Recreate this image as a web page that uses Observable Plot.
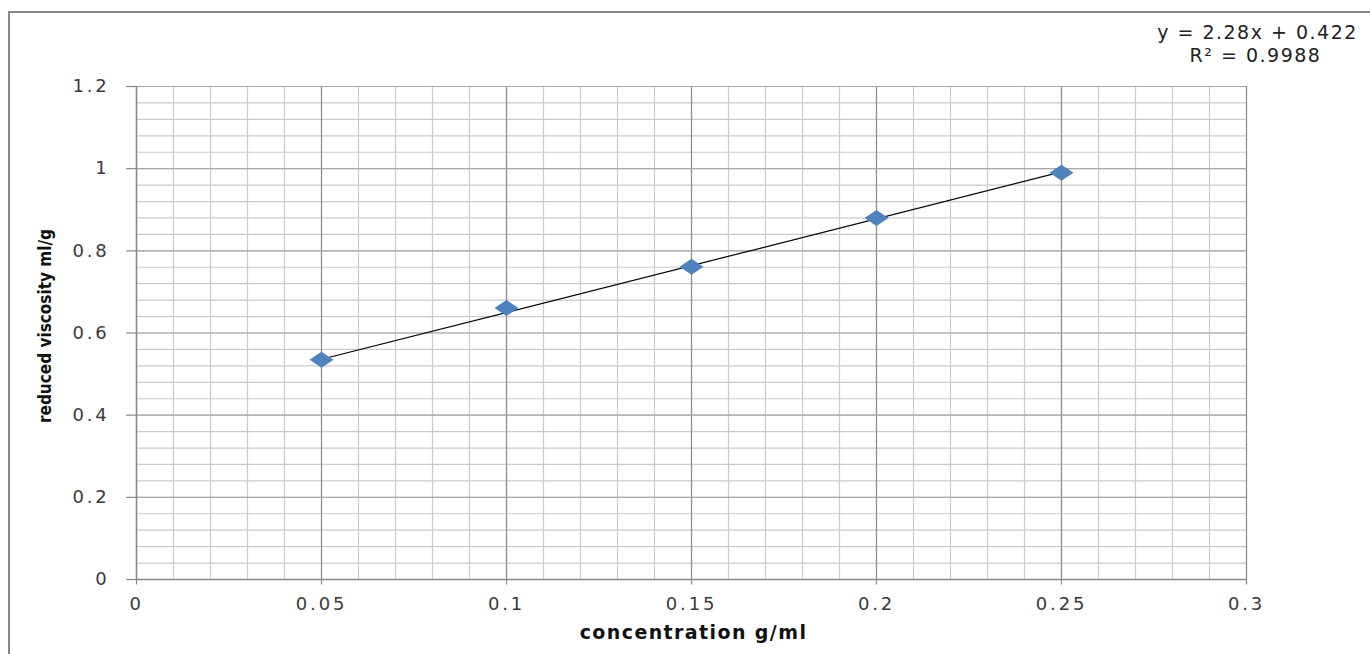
<!DOCTYPE html>
<html>
<head>
<meta charset="utf-8">
<script src="https://cdn.jsdelivr.net/npm/d3@7"></script>
<script src="https://cdn.jsdelivr.net/npm/@observablehq/plot@0.6"></script>
<style>
  html, body { margin: 0; padding: 0; background: #fff; }
  #wrap { position: relative; width: 1370px; height: 654px; overflow: hidden; }
  #frame { position: absolute; left: 8px; top: 11px; width: 1420px; height: 720px;
           border: 2px solid #878787; pointer-events: none; }
  g[aria-label$="tick label"] text { letter-spacing: 2.8px; }
</style>
</head>
<body>
<div id="wrap"><div id="frame"></div></div>
<script>
// Data
const concentration = [0.05, 0.10, 0.15, 0.20, 0.25];
const reducedViscosity = [0.535, 0.661, 0.761, 0.880, 0.990];
const slope = 2.28, intercept = 0.422;
const trendX = [0.05, 0.25];
const xTicks = [0, 0.05, 0.1, 0.15, 0.2, 0.25, 0.3];
const xTickLabels = ["0", "0.05", "0.1", "0.15", "0.2", "0.25", "0.3"];
const yTicks = [0, 0.2, 0.4, 0.6, 0.8, 1.0, 1.2];
const yTickLabels = ["0", "0.2", "0.4", "0.6", "0.8", "1", "1.2"];
const equationLines = ["y = 2.28x + 0.422", "R² = 0.9988"];
const xTitle = "concentration g/ml";
const yTitle = "reduced viscosity ml/g";

const points = concentration.map((c, i) => ({x: c, y: reducedViscosity[i]}));
const trend = trendX.map(x => ({x, y: slope * x + intercept}));
const xMinor = d3.range(0, 31).map(i => i / 100);
const yMinor = d3.range(0, 31).map(i => i * 0.04);

const wideDiamond = {
  draw(ctx, size) {
    const r = Math.sqrt(size / Math.PI);
    ctx.moveTo(0, -r);
    ctx.lineTo(1.5 * r, 0);
    ctx.lineTo(0, r);
    ctx.lineTo(-1.5 * r, 0);
    ctx.closePath();
  }
};

const chart = Plot.plot({
  width: 1370,
  height: 654,
  marginLeft: 136,
  marginRight: 124,
  marginTop: 86,
  marginBottom: 75,
  style: {fontFamily: "DejaVu Sans", fontSize: "18px", color: "#3a3a3a", background: "transparent", overflow: "visible"},
  x: {domain: [0, 0.3], ticks: xTicks, tickFormat: d => xTickLabels[xTicks.indexOf(d)], tickSize: 0, tickPadding: 18, label: null},
  y: {domain: [0, 1.2], ticks: yTicks, tickFormat: d => yTickLabels[yTicks.indexOf(d)], tickSize: 0, tickPadding: 27, label: null},
  marks: [
    Plot.ruleX(xMinor, {stroke: "#cacaca", strokeWidth: 1.2}),
    Plot.ruleY(yMinor, {stroke: "#cacaca", strokeWidth: 1.2}),
    Plot.ruleX(xTicks.slice(1), {stroke: "#8e8e8e", strokeWidth: 1.2}),
    Plot.ruleY(yTicks.slice(1), {stroke: "#a8a8a8", strokeWidth: 1.2}),
    Plot.ruleX([0], {stroke: "#888", strokeWidth: 1.5}),
    Plot.ruleY([0], {stroke: "#888", strokeWidth: 1.5}),
    Plot.ruleX(xTicks, {y1: 0, y2: -0.0135, stroke: "#888", strokeWidth: 1.2}),
    Plot.ruleY(yTicks, {x1: 0, x2: -0.0027, stroke: "#888", strokeWidth: 1.2}),
    Plot.line(trend, {x: "x", y: "y", stroke: "#000", strokeWidth: 1.2}),
    Plot.dot(points, {x: "x", y: "y", symbol: wideDiamond, r: 8, fill: "#4f81bd", stroke: "none"}),
    Plot.text([equationLines[0]], {frameAnchor: "top-right", dx: 11, dy: -54, textAnchor: "middle", lineAnchor: "middle", fill: "#222", fontSize: 19}),
    Plot.text([equationLines[1]], {frameAnchor: "top-right", dx: 9, dy: -31, textAnchor: "middle", lineAnchor: "middle", fill: "#222", fontSize: 19}),
    Plot.text([xTitle], {frameAnchor: "bottom", dx: 2, dy: 53, textAnchor: "middle", lineAnchor: "middle", fontWeight: "bold", fill: "#111", fontSize: 19}),
    Plot.text([yTitle], {frameAnchor: "left", dx: -91, dy: -7, rotate: -90, textAnchor: "middle", lineAnchor: "middle", fontWeight: "bold", fill: "#111", fontSize: 17, fontFamily: "'DejaVu Sans Condensed', 'Liberation Sans', sans-serif"})
  ]
});
document.getElementById("wrap").prepend(chart);
const spacing = new Map([[equationLines[0], "1.5px"], [equationLines[1], "1.5px"], [xTitle, "1.4px"]]);
d3.select(chart).selectAll("text").each(function () {
  const s = spacing.get(this.textContent);
  if (s) this.style.letterSpacing = s;
});
</script>
</body>
</html>
